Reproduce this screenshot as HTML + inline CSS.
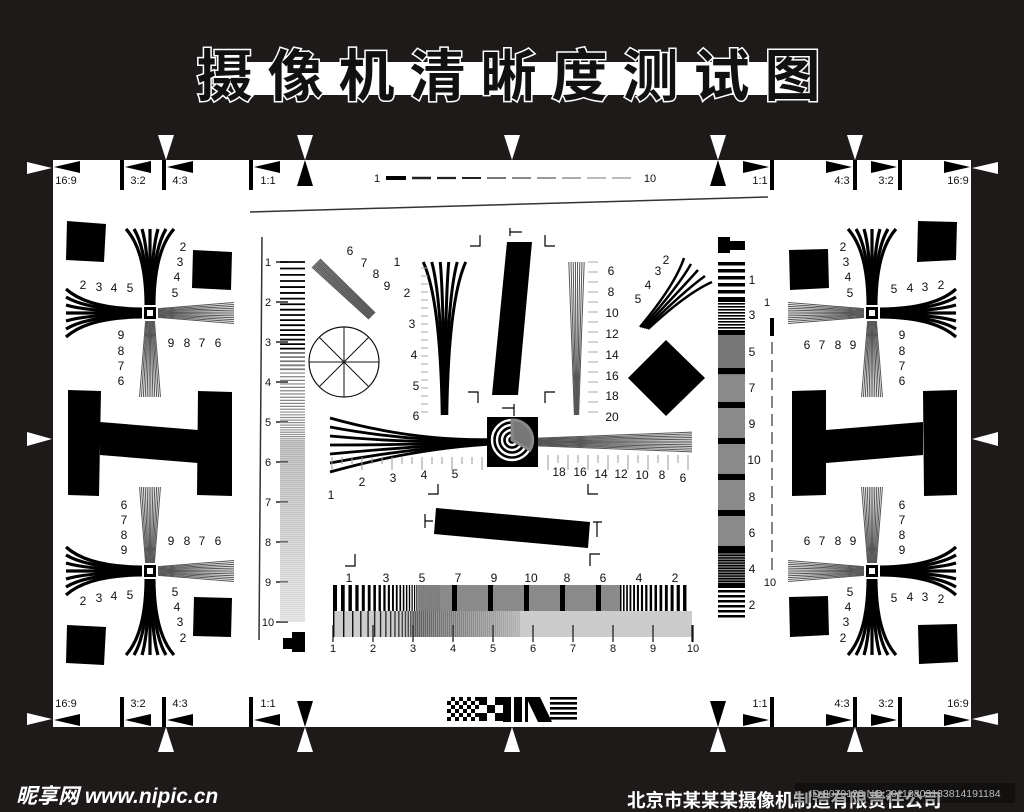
<!DOCTYPE html>
<html><head><meta charset="utf-8"><style>
html,body{margin:0;padding:0;background:#1e1a1a;width:1024px;height:812px;overflow:hidden}
svg{display:block}
text{font-family:"Liberation Sans","Noto Sans CJK SC",sans-serif}
</style></head><body>
<svg id="s" width="1024" height="812" viewBox="0 0 1024 812" xmlns="http://www.w3.org/2000/svg"></svg>
<script>
var h='';
function L(a,b,c,d,w,col){h+='<line x1="'+a+'" y1="'+b+'" x2="'+c+'" y2="'+d+'" stroke="'+(col||'#000')+'" stroke-width="'+(w||1)+'"/>';}
function R(x,y,w,hh,c){h+='<rect x="'+x+'" y="'+y+'" width="'+w+'" height="'+hh+'" fill="'+(c||'#000')+'"/>';}
function P(pts,c){h+='<polygon points="'+pts+'" fill="'+(c||'#000')+'"/>';}
function T(x,y,t,sz,anc,col){h+='<text x="'+x+'" y="'+y+'" font-size="'+(sz||12)+'" text-anchor="'+(anc||'middle')+'" fill="'+(col||'#111')+'">'+t+'</text>';}
function PA(d,st,w,f){h+='<path d="'+d+'" stroke="'+(st||'none')+'" stroke-width="'+(w||1)+'" fill="'+(f||'none')+'"/>';}

R(0,0,1024,812,'#1e1a1a');
R(53,160,918,567,'#fff');
R(236,62,562,33,'#fff');
h+='<text x="516" y="96" font-size="56" text-anchor="middle" font-family="Noto Serif CJK SC,serif" font-weight="bold" fill="#111" stroke="#fff" stroke-width="3" paint-order="stroke" letter-spacing="15">摄像机清晰度测试图</text>';

function ratioTop(e,up){
  var s=up?1:-1;
  var bars=[[120,'3:2',128],[162,'4:3',170],[249,'1:1',258]];
  P('54,'+(e+s*7)+' 80,'+(e+s*1)+' 80,'+(e+s*13));
  bars.forEach(function(b){R(b[0],up?e:e-30,4,30);P((b[0]+5)+','+(e+s*7)+' '+(b[0]+31)+','+(e+s*1)+' '+(b[0]+31)+','+(e+s*13));T(b[2]+10,up?e+24:e-20,b[1],11);});
  T(66,up?e+24:e-20,'16:9',11);
  var rb=[[770,'1:1',760],[853,'4:3',842],[898,'3:2',886]];
  rb.forEach(function(b){R(b[0],up?e:e-30,4,30);P((b[0]-1)+','+(e+s*7)+' '+(b[0]-27)+','+(e+s*1)+' '+(b[0]-27)+','+(e+s*13));T(b[2],up?e+24:e-20,b[1],11);});
  P('970,'+(e+s*7)+' 944,'+(e+s*1)+' 944,'+(e+s*13));
  T(958,up?e+24:e-20,'16:9',11);
  P('27,'+(e+s*2)+' 27,'+(e+s*14)+' 52,'+(e+s*8),'#fff');
  P('998,'+(e+s*2)+' 998,'+(e+s*14)+' 972,'+(e+s*8),'#fff');
  [166,305,512,718,855].forEach(function(x){P((x-8)+','+(e-s*25)+' '+(x+8)+','+(e-s*25)+' '+x+','+e,'#fff');});
  [305,718].forEach(function(x){P((x-8)+','+(e+s*26)+' '+(x+8)+','+(e+s*26)+' '+x+','+e,'#000');});
}
ratioTop(160,true);ratioTop(727,false);
P('27,432 27,446 52,439','#fff');P('998,432 998,446 972,439','#fff');

T(377,182,'1',11);T(650,182,'10',11);
R(386,176,20,4);
for(var i=0;i<9;i++){var x=412+i*25;L(x,178,x+19,178,Math.max(1,2.5-i*0.2),i<3?'#222':'#777');}
L(250,212,768,197,1.5,'#333');
L(262,237,259,640,1.5,'#333');

function fanB(cx,cy,dx,dy){var px=-dy,py=dx;for(var i=0;i<7;i++){var o=i-3;
 var x1=cx+dx*8+px*o*1.3,y1=cy+dy*8+py*o*1.3,cx1=cx+dx*62+px*o*1.4,cy1=cy+dy*62+py*o*1.4,x2=cx+dx*84+px*o*8,y2=cy+dy*84+py*o*8;
 PA('M'+x1+' '+y1+' Q'+cx1+' '+cy1+' '+x2+' '+y2,'#000',3.2);}}
function fanG(cx,cy,dx,dy){var px=-dy,py=dx;for(var i=0;i<12;i++){var o=i-5.5;
 L(cx+dx*8+px*o*0.8,cy+dy*8+py*o*0.8,cx+dx*84+px*o*1.9,cy+dy*84+py*o*1.9,1,'#555');}}
function cross(cx,cy,u,d,l,r){
 (u=='b'?fanB:fanG)(cx,cy,0,-1);(d=='b'?fanB:fanG)(cx,cy,0,1);(l=='b'?fanB:fanG)(cx,cy,-1,0);(r=='b'?fanB:fanG)(cx,cy,1,0);
 R(cx-6,cy-6,12,12);R(cx-3,cy-3,6,6,'#fff');}
cross(150,313,'b','g','b','g');
cross(150,571,'g','b','b','g');
cross(872,313,'b','g','g','b');
cross(872,571,'g','b','g','b');
function lab(arr){arr.forEach(function(a){T(a[0],a[1],a[2],12);});}
lab([[183,251,'2'],[180,266,'3'],[177,281,'4'],[175,297,'5'],[83,289,'2'],[99,291,'3'],[114,292,'4'],[130,292,'5'],[171,347,'9'],[187,347,'8'],[202,347,'7'],[218,347,'6'],[121,339,'9'],[121,355,'8'],[121,370,'7'],[121,385,'6']]);
lab([[124,509,'6'],[124,524,'7'],[124,539,'8'],[124,554,'9'],[171,545,'9'],[187,545,'8'],[202,545,'7'],[218,545,'6'],[83,605,'2'],[99,602,'3'],[114,600,'4'],[130,599,'5'],[175,596,'5'],[177,611,'4'],[180,626,'3'],[183,642,'2']]);
lab([[843,251,'2'],[846,266,'3'],[848,281,'4'],[850,297,'5'],[894,293,'5'],[910,292,'4'],[925,291,'3'],[941,289,'2'],[807,349,'6'],[822,349,'7'],[838,349,'8'],[853,349,'9'],[902,339,'9'],[902,355,'8'],[902,370,'7'],[902,385,'6']]);
lab([[902,509,'6'],[902,524,'7'],[902,539,'8'],[902,554,'9'],[807,545,'6'],[822,545,'7'],[838,545,'8'],[853,545,'9'],[894,602,'5'],[910,601,'4'],[925,601,'3'],[941,603,'2'],[850,596,'5'],[848,611,'4'],[846,626,'3'],[843,642,'2']]);

P('67,221 106,224 104,262 66,260');P('193,250 232,252 231,290 192,288');
P('67,625 106,627 104,665 66,663');P('194,597 232,598 231,637 193,636');
P('918,221 957,222 956,260 917,262');P('789,250 828,249 829,288 790,290');
P('918,625 957,624 958,662 919,664');P('789,597 828,596 829,635 790,637');
P('68,390 101,391 99,496 68,495');P('198,391 232,392 232,496 197,495');P('100,422 198,430 198,463 100,455');
P('792,391 826,390 826,495 792,496');P('923,391 957,390 957,495 924,496');P('826,430 923,422 923,455 826,463');

for(var k=1;k<=10;k++){var y=262+(k-1)*40;T(268,y+4,String(k),11);L(276,y,288,y,1.5,'#222');}
(function(){var y=262,s=6.5;while(y<622){var t=(y-262)/360;var c=t<0.25?'#000':'rgb('+Math.round(90+120*t)+','+Math.round(90+120*t)+','+Math.round(90+120*t)+')';L(280,y,305,y,t<0.3?1.8:1.2,c);y+=Math.max(2,s-t*9);}})();
R(292,632,13,20);R(283,638,10,11);

for(var i=0;i<10;i++){var o=i-4.5;L(316+o*0.9,263-o*0.9,372+o*0.7,316-o*0.7,1.1,'#555');}
lab([[350,255,'6'],[364,267,'7'],[376,278,'8'],[387,290,'9']]);
h+='<circle cx="344" cy="362" r="35" fill="none" stroke="#111" stroke-width="1.2"/>';
for(var a=0;a<4;a++){var an=a*Math.PI/4;L(344+35*Math.cos(an),362+35*Math.sin(an),344-35*Math.cos(an),362-35*Math.sin(an),1,'#111');}
for(var i=0;i<6;i++){var o=i-2.5;PA('M'+(444.5+o*8.5)+' 262 Q'+(444.5+o*1.6)+' 300 '+(444.5+o*0.9)+' 415','#000',3);}
lab([[397,266,'1'],[407,297,'2'],[412,328,'3'],[414,359,'4'],[416,390,'5'],[416,420,'6']]);
for(var y=268;y<415;y+=8)L(421,y,428,y,1,'#aaa');
P('507,242 532,242 518,395 492,395');
PA('M470 246 L480 246 L480 235','#000',1.2);PA('M545 235 L545 246 L555 246','#000',1.2);
PA('M468 392 L478 392 L478 403','#000',1.2);PA('M545 403 L545 392 L555 392','#000',1.2);
PA('M510 228 L510 236 M510 232 L522 232','#000',1.2);PA('M502 408 L514 408 M514 404 L514 416','#000',1.2);
for(var i=0;i<8;i++){var o=i-3.5;L(576.5+o*2.2,262,576.5+o*0.6,415,1,'#555');}
lab([[611,275,'6'],[611,296,'8'],[612,317,'10'],[612,338,'12'],[612,359,'14'],[612,380,'16'],[612,400,'18'],[612,421,'20']]);
for(var y=262;y<415;y+=10)L(588,y,598,y,1,'#aaa');
for(var i=0;i<5;i++){var o=i;PA('M'+(640+o*2)+' '+(327+o*0.5)+' Q'+(675+o*3)+' '+(285+o*2)+' '+(684+o*7)+' '+(258+o*6),'#000',2.5);}
lab([[666,264,'2'],[658,275,'3'],[648,289,'4'],[638,303,'5']]);
P('666,340 705,378 666,416 628,378');
for(var i=0;i<7;i++){var o=i-3;PA('M330 '+(445+o*9)+' Q410 '+(445+o*1.5)+' 487 '+(442+o*0.8),'#000',2.8);}
for(var i=0;i<12;i++){var o=i-5.5;L(538,442+o*0.7,692,442+o*1.8,1,'#555');}
R(487,417,51,50);
[20,15,10,5].forEach(function(r){h+='<circle cx="512" cy="440" r="'+r+'" fill="none" stroke="#fff" stroke-width="2.4"/>';});
PA('M512 420 A20 20 0 0 1 530 450 L512 440 Z','#888',3,'#777');
for(var x=332;x<485;x+=10){L(x,457,x,(x-332)%30==0?470:464,1,'#999');}
for(var x=548;x<692;x+=10){L(x,455,x,(x-548)%20==0?470:463,1,'#999');}
lab([[331,499,'1'],[362,486,'2'],[393,482,'3'],[424,479,'4'],[455,478,'5'],[559,476,'18'],[580,476,'16'],[601,478,'14'],[621,478,'12'],[642,479,'10'],[662,479,'8'],[683,482,'6']]);
PA('M428 494 L438 494 L438 484','#000',1.2);PA('M588 484 L588 494 L598 494','#000',1.2);
P('436,508 590,522 588,548 434,534');
PA('M425 514 L425 528 M425 521 L433 521','#000',1.2);PA('M593 522 L602 522 M597 522 L597 537','#000',1.2);
PA('M355 554 L355 566 L345 566','#000',1.2);PA('M590 566 L590 554 L600 554','#000',1.2);

(function(){
 var x=333,p=8;while(x<460){var w=p/2;R(x,585,w,26);x+=p;p=Math.max(2,p*0.93);}
 R(440,585,180,26,'#8a8a8a');
 [452,488,524,560,596].forEach(function(x){R(x,585,5,26);});
 x=620;p=3;while(x<689){R(x,585,p/2,26);x+=p;p=Math.min(8,p*1.06);}
 R(333,611,359,26,'#ccc');
 x=333;p=10;while(x<520){var t=(x-333)/190;var g=Math.round(t*180);R(x,611,1.4,26,'rgb('+g+','+g+','+g+')');x+=p;p=Math.max(2,p*0.9);}
 for(var k=0;k<10;k++){var xx=333+k*40;L(xx,625,xx,642,1.2,'#111');T(xx,652,String(k+1),11);}
 L(692,625,692,642,1.2,'#111');
 lab([[349,582,'1'],[386,582,'3'],[422,582,'5'],[458,582,'7'],[494,582,'9'],[531,582,'10'],[567,582,'8'],[603,582,'6'],[639,582,'4'],[675,582,'2']]);
})();

R(718,237,12,16);R(730,241,15,9);
(function(){
 var y=262;while(y<298){R(718,y,27,3.5);y+=7;}
 R(718,298,27,4);y=303;while(y<330){R(718,y,27,1.6);y+=3;}
 R(718,330,27,5);R(718,335,27,40,'#777');
 R(718,375,27,210,'#8a8a8a');
 [368,402,438,474,510,546].forEach(function(y){R(718,y,27,6);});
 y=552;while(y<585){R(718,y,27,1.4);y+=2.6;}
 R(718,583,27,5);y=590;while(y<620){R(718,y,27,2.5);y+=5;}
 lab([[752,284,'1'],[752,319,'3'],[752,356,'5'],[752,392,'7'],[752,428,'9'],[754,464,'10'],[752,501,'8'],[752,537,'6'],[752,573,'4'],[752,609,'2']]);
 T(767,306,'1',11);T(770,586,'10',11);
 R(770,318,4,18);
 for(var y=342;y<572;y+=18)L(772,y,772,y+12,1.2,'#333');
})();

(function(){
 for(var i=0;i<8;i++)for(var j=0;j<6;j++)if((i+j)%2)R(447+i*4,697+j*4,4,4);
 for(var i=0;i<3;i++)for(var j=0;j<3;j++)if((i+j)%2==0)R(479+i*8,697+j*8,8,8);
 R(503,697,8,25);R(514,697,8,25);
 P('526,697 540,697 552,722 538,722');R(525,697,3,25);
 for(var j=0;j<5;j++)R(550,697+j*5,27,2.6);
})();

h+='<text x="16" y="803" font-size="21" font-weight="bold" font-style="italic" fill="#fff" font-family="Liberation Sans,Noto Sans CJK SC,sans-serif">昵享网 www.nipic.cn</text>';
h+='<text x="627" y="807" font-size="18.5" font-weight="bold" fill="#fff" font-family="Liberation Sans,Noto Sans CJK SC,sans-serif">北京市某某某摄像机制造有限责任公司</text>';
R(795,783,220,20,'rgba(0,0,0,0.35)');
T(905,797,'ID:8079128 NO:20110803133814191184',10.5,'middle','#bbb');

document.getElementById('s').innerHTML=h;
</script>
</body></html>
